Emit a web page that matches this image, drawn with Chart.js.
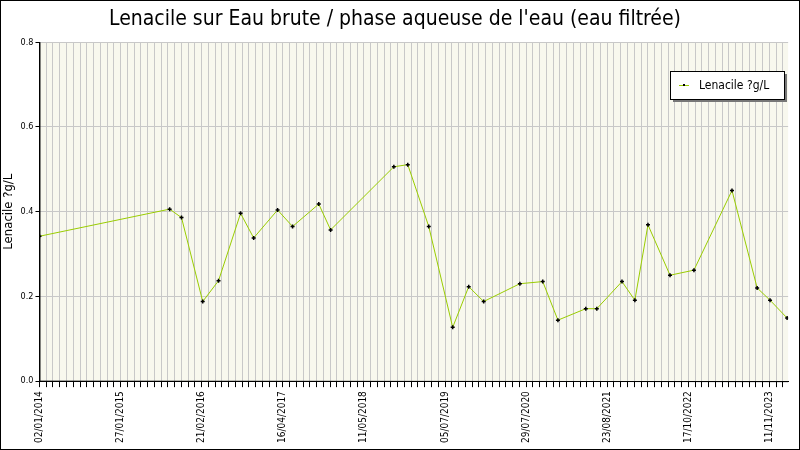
<!DOCTYPE html>
<html><head><meta charset="utf-8">
<script src="https://cdn.jsdelivr.net/npm/chart.js@4/dist/chart.umd.min.js"></script>
<style>body{margin:0}#wrap{width:798px;height:448px;border:1px solid #000;background:#fff}</style>
</head><body><div id="wrap"><canvas id="c" width="798" height="448"></canvas></div>
<script>
// jours depuis le 02/01/2014
const days = [0,626,683,785,861,967,1030,1145,1217,1343,1400,1704,1771,1872,1987,2064,2136,2310,2420,2493,2627,2680,2801,2863,2926,3032,3147,3330,3451,3513,3595];
const values = [0.342,0.406,0.386,0.188,0.237,0.396,0.338,0.404,0.365,0.418,0.357,0.506,0.511,0.365,0.127,0.223,0.188,0.230,0.235,0.144,0.171,0.171,0.235,0.191,0.369,0.250,0.262,0.450,0.220,0.191,0.149];
const tickLabels = ['02/01/2014','27/01/2015','21/02/2016','16/04/2017','11/05/2018','05/07/2019','29/07/2020','23/08/2021','17/10/2022','11/11/2023'];
const labelStep = 390, minorPerLabel = 12;

const bgPlugin = {
  id: 'bg',
  beforeDraw(chart) {
    const {ctx, chartArea: a} = chart;
    ctx.save(); ctx.fillStyle = '#f8f8ee';
    ctx.fillRect(a.left, a.top, a.right - a.left, a.bottom - a.top); ctx.restore();
  },
  afterDraw(chart) {
    const {ctx} = chart;
    ctx.save();
    const x = 669, y = 70, w = 114, h = 28;
    ctx.fillStyle = '#777'; ctx.fillRect(x + 3, y + 3, w, h);
    ctx.fillStyle = '#fff'; ctx.fillRect(x, y, w, h);
    ctx.strokeStyle = '#000'; ctx.lineWidth = 1; ctx.strokeRect(x + 0.5, y + 0.5, w, h);
    ctx.strokeStyle = '#99cc00'; ctx.beginPath(); ctx.moveTo(678, y + 14.5); ctx.lineTo(688, y + 14.5); ctx.stroke();
    ctx.fillStyle = '#000'; ctx.fillRect(682, y + 13, 2, 2);
    ctx.font = '12px "DejaVu Sans Condensed", "DejaVu Sans"'; ctx.textBaseline = 'middle';
    ctx.fillText('Lenacile ?g/L', 698, y + 15);
    const a = chart.chartArea;
    ctx.strokeStyle = '#000'; ctx.beginPath();
    ctx.moveTo(a.left + 0.5, a.top); ctx.lineTo(a.left + 0.5, a.bottom); ctx.lineTo(a.right, a.bottom + 0.5); ctx.stroke();
    ctx.restore();
  }
};

new Chart(document.getElementById('c'), {
  type: 'line',
  data: { datasets: [{
    data: days.map((d, i) => ({x: d, y: values[i]})),
    borderColor: '#99cc00', borderWidth: 1, tension: 0,
    pointStyle: 'cross', pointRadius: 2, pointBorderColor: '#000', pointBorderWidth: 1.5
  }]},
  options: {
    responsive: false, animation: false,
    layout: { padding: { right: 8, left: -2, bottom: 2 } },
    plugins: {
      legend: { display: false }, tooltip: { enabled: false },
      title: { display: true, text: "Lenacile sur Eau brute / phase aqueuse de l'eau (eau filtrée)",
        font: { family: '"DejaVu Sans Condensed", "DejaVu Sans"', size: 21, weight: 'normal' }, color: '#000', padding: { top: 6, bottom: 10 } }
    },
    scales: {
      x: {
        type: 'linear', min: 0, max: 3600,
        afterBuildTicks(s) {
          const t = [];
          for (let v = 0; v <= 3600 + 0.1; v += labelStep / minorPerLabel) t.push({value: v});
          s.ticks = t;
        },
        grid: { color: '#c8c8c8', tickColor: '#000', tickLength: 6, drawOnChartArea: true },
        border: { color: '#000' },
        ticks: {
          autoSkip: false, minRotation: 90, maxRotation: 90, color: '#000', padding: 4,
          font: { family: '"DejaVu Sans Condensed", "DejaVu Sans"', size: 10 },
          callback(v, i) { return i % minorPerLabel === 0 ? tickLabels[i / minorPerLabel] : ''; }
        }
      },
      y: {
        min: 0, max: 0.8,
        title: { display: true, text: 'Lenacile ?g/L', font: { family: '"DejaVu Sans Condensed", "DejaVu Sans"', size: 13 }, color: '#000', padding: 2 },
        grid: { color: '#c8c8c8', tickColor: '#000', tickLength: 4 },
        border: { color: '#000' },
        ticks: { stepSize: 0.2, color: '#000', padding: 2, font: { family: '"DejaVu Sans Condensed", "DejaVu Sans"', size: 9 }, callback: v => v.toFixed(1) }
      }
    }
  },
  plugins: [bgPlugin]
});
</script></body></html>
